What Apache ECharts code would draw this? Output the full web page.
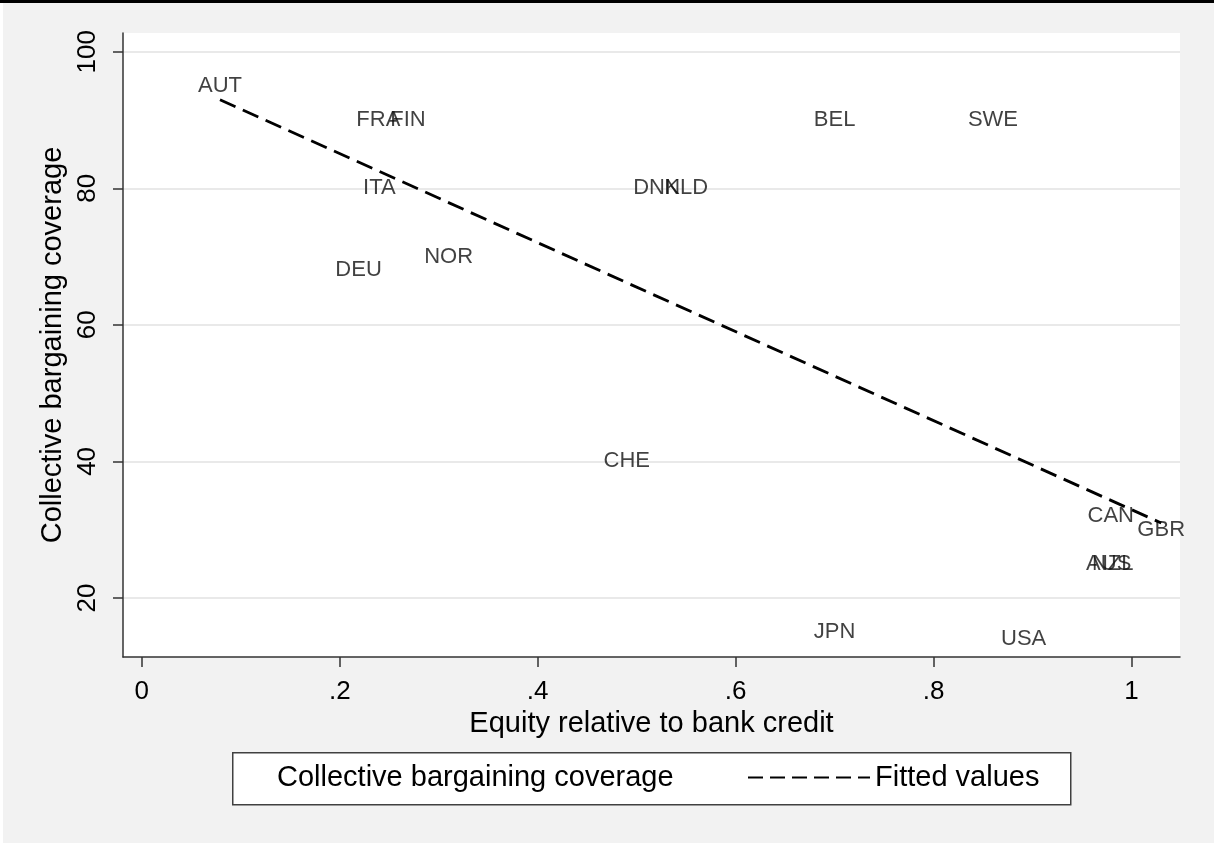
<!DOCTYPE html>
<html>
<head>
<meta charset="utf-8">
<title>Collective bargaining coverage vs equity relative to bank credit</title>
<script src="https://cdn.jsdelivr.net/npm/echarts@6/dist/echarts.min.js"></script>
<style>
  html, body { margin: 0; padding: 0; background: #f2f2f2; }
  #chart { width: 1214px; height: 843px; }
</style>
</head>
<body>
<div id="chart"></div>
<script>
// Country codes and their values
const countries = ['AUT', 'FRA', 'FIN', 'BEL', 'SWE', 'ITA', 'DNK', 'NLD', 'DEU',
                   'NOR', 'CHE', 'CAN', 'GBR', 'AUS', 'NZL', 'JPN', 'USA'];
const equityToCredit = [0.079, 0.239, 0.269, 0.700, 0.860, 0.240, 0.520, 0.550, 0.219,
                        0.310, 0.490, 0.979, 1.030, 0.977, 0.981, 0.700, 0.891];
const bargainingCoverage = [95, 90, 90, 90, 90, 80, 80, 80, 68,
                            70, 40, 32, 30, 25, 25, 15, 14];

// Linear fit, end points
const fittedX = [0.079, 1.030];
const fittedY = [92.96, 30.98];

// Axis ticks
const xTicks = [0, 0.2, 0.4, 0.6, 0.8, 1];
const xTickLabels = ['0', '.2', '.4', '.6', '.8', '1'];
const yTicks = [20, 40, 60, 80, 100];

const SCATTER_NAME = 'Collective bargaining coverage';
const FIT_NAME = 'Fitted values';
const FONT = '"Liberation Sans", Arial, sans-serif';

const scatterData = countries.map((c, i) => ({ name: c, value: [equityToCredit[i], bargainingCoverage[i]] }));
const fitData = fittedX.map((x, i) => [x, fittedY[i]]);

const chart = echarts.init(document.getElementById('chart'), null, { renderer: 'canvas' });

chart.setOption({
  backgroundColor: '#f2f2f2',
  animation: false,
  textStyle: { fontFamily: FONT },
  grid: {
    left: 123, right: 34, top: 33, bottom: 186,
    show: true, backgroundColor: '#ffffff', borderWidth: 0
  },
  xAxis: {
    type: 'value',
    min: -0.019, max: 1.049,
    name: 'Equity relative to bank credit',
    nameLocation: 'middle',
    nameGap: 47,
    nameTextStyle: { fontSize: 29, color: '#000', fontFamily: FONT },
    axisLine: { show: true, onZero: false, lineStyle: { color: '#333', width: 1.5 } },
    axisTick: { show: true, length: 10, customValues: xTicks, lineStyle: { color: '#333', width: 1.5 } },
    axisLabel: {
      customValues: xTicks,
      margin: 22,
      fontSize: 26, color: '#000', fontFamily: FONT,
      formatter: v => {
        const k = xTicks.findIndex(t => Math.abs(t - v) < 1e-9);
        return k >= 0 ? xTickLabels[k] : '';
      }
    },
    splitLine: { show: false }
  },
  yAxis: {
    type: 'value',
    min: 11.35, max: 102.75,
    name: 'Collective bargaining coverage',
    nameLocation: 'middle',
    nameGap: 48,
    nameTextStyle: { fontSize: 29, color: '#000', fontFamily: FONT },
    axisLine: { show: true, onZero: false, lineStyle: { color: '#333', width: 1.5 } },
    axisTick: { show: true, length: 10, customValues: yTicks, lineStyle: { color: '#333', width: 1.5 } },
    axisLabel: {
      customValues: yTicks,
      rotate: 90,
      margin: 22,
      fontSize: 26, color: '#000', fontFamily: FONT
    },
    splitLine: { show: true, lineStyle: { color: '#e9e9e9', width: 2 } }
  },
  legend: [
    {
      data: [SCATTER_NAME],
      left: 271, top: 763, padding: 0,
      selectedMode: false,
      icon: 'rect', itemWidth: 1, itemHeight: 1,
      itemStyle: { opacity: 0 },
      textStyle: { fontSize: 29, color: '#000', fontFamily: FONT, lineHeight: 29 }
    },
    {
      data: [FIT_NAME],
      left: 747, top: 763, padding: 0,
      selectedMode: false,
      itemWidth: 122, itemHeight: 14,
      // dashed line sample only, no point symbol
      itemStyle: { color: 'rgba(0,0,0,0)', opacity: 0, borderWidth: 0 },
      lineStyle: { color: '#000', width: 2, type: [15, 7], opacity: 1 },
      textStyle: { fontSize: 29, color: '#000', fontFamily: FONT, lineHeight: 29 }
    }
  ],
  graphic: [
    // top rule and thin left margin of the page
    { type: 'rect', left: 0, top: 0, z: 100, shape: { width: 1214, height: 3 }, style: { fill: '#000' } },
    { type: 'rect', left: 0, top: 3, z: 1, shape: { width: 3, height: 840 }, style: { fill: '#ffffff' } },
    // legend frame
    { type: 'rect', left: 232, top: 752, z: 0,
      shape: { width: 838, height: 52 },
      style: { fill: '#ffffff', stroke: '#404040', lineWidth: 1.5 } }
  ],
  series: [
    {
      name: SCATTER_NAME,
      type: 'scatter',
      data: scatterData,
      symbolSize: 0,
      silent: true,
      itemStyle: { color: '#000' },
      label: {
        show: true,
        position: 'inside',
        formatter: p => p.name,
        fontSize: 22,
        color: '#111',
        fontFamily: FONT
      },
      z: 3
    },
    {
      name: FIT_NAME,
      type: 'line',
      data: fitData,
      symbol: 'none',
      silent: true,
      lineStyle: { color: '#000', width: 2.8, type: [17, 8] },
      itemStyle: { color: '#000' },
      z: 4
    }
  ]
});
</script>
</body>
</html>
